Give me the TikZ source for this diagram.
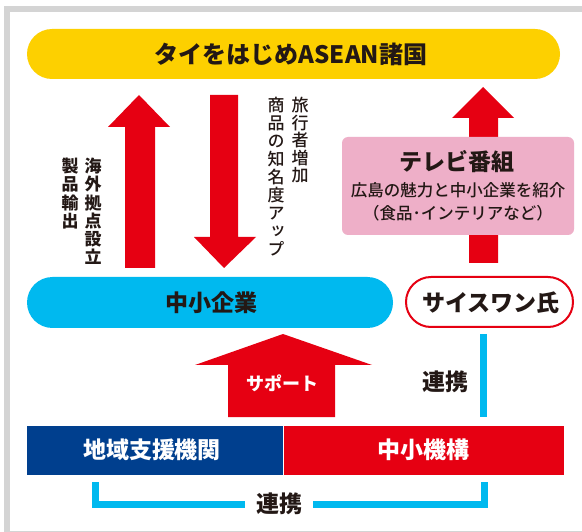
\documentclass[tikz,border=0pt]{standalone}
\usepackage{fontspec}
\setmainfont{Noto Sans CJK JP}
\newfontfamily\jpv{Noto Sans CJK JP}[RawFeature=+vert]
\newfontfamily\jpm{Noto Sans CJK JP Medium}
\newfontfamily\jpmv{Noto Sans CJK JP Medium}[RawFeature=+vert]
\definecolor{ink}{HTML}{231815}
\definecolor{ylw}{HTML}{FDD000}
\definecolor{rd}{HTML}{E60012}
\definecolor{cy}{HTML}{00B9EF}
\definecolor{nv}{HTML}{003F8E}
\definecolor{pk}{HTML}{EEAFC8}
\definecolor{frm}{HTML}{D4D4D4}
\newcommand\fsz[1]{\fontsize{#1}{#1}\selectfont}
\newcommand\fszb[2]{\fontsize{#1}{#2}\selectfont}
\tikzset{
  pill/.style={rectangle, inner sep=0pt},
  bigtxt/.style={text=ink, font=\bfseries\fsz{23}},
  vtxt/.style={text=ink, inner sep=0pt, anchor=north, align=center},
  bigarrow/.style={fill=rd},
  link/.style={draw=cy, line width=7pt, line cap=butt, line join=miter},
}
\begin{document}
\begin{tikzpicture}[x=1pt,y=-1pt]
\useasboundingbox (0,0) rectangle (582,532);
\clip (0,0) rectangle (582,532);
\fill[white] (0,0) rectangle (582,532);
\draw[frm, line width=6pt] (7,9) rectangle (600,534);

% big arrows
\fill[bigarrow] (125,268) -- (125,127) -- (108,127) -- (139,95) -- (170,127) -- (155,127) -- (155,268) -- cycle;
\fill[bigarrow] (210,95) -- (238,95) -- (238,237) -- (256,237) -- (224,268) -- (194,237) -- (210,237) -- cycle;
\fill[bigarrow] (469,263) -- (469,118) -- (452,118) -- (483,87) -- (514,118) -- (498,118) -- (498,263) -- cycle;
\fill[bigarrow] (228,417) -- (228,365) -- (195,365) -- (283,334) -- (372,365) -- (335,365) -- (335,417) -- cycle;

% top pill
\node[pill, fill=ylw, minimum width=533pt, minimum height=50pt, rounded corners=25pt] (asean) at (293.5,54) {};
\node[bigtxt, font=\bfseries\fsz{24}] (aseant) at (291,54) {タイをはじめASEAN諸国};

% pink box
\node[pill, fill=pk, minimum width=232pt, minimum height=98pt, rounded corners=6pt] (tv) at (458,186) {};
\node[bigtxt] (tvt) at (457,162) {テレビ番組};
\node[text=ink, font=\jpm\fsz{16.5}] (tv2) at (458,190) {広島の魅力と中小企業を紹介};
\node[text=ink, font=\jpm\fsz{16.5}] (tv3) at (458,213) {（食品･インテリアなど）};

% middle row
\node[pill, fill=cy, minimum width=366pt, minimum height=51pt, rounded corners=25.5pt] (sme) at (210,302.5) {};
\node[bigtxt] (smet) at (211,303) {中小企業};
\node[pill, draw=rd, line width=2pt, fill=white, minimum width=167pt, minimum height=50pt, rounded corners=25pt] (sai) at (489.5,302) {};
\node[bigtxt] (sait) at (491,303) {サイスワン氏};

% vertical labels
\node[vtxt, font=\jpv\bfseries\fszb{17}{18.2}] (v1) at (93,158) {海\\外\\拠\\点\\設\\立};
\node[vtxt, font=\jpv\bfseries\fszb{17}{18.2}] (v2) at (70,158) {製\\品\\輸\\出};
\node[vtxt, font=\jpmv\fszb{17}{17.6}] (v3) at (300,97) {旅\\行\\者\\増\\加};
\node[vtxt, font=\jpmv\fszb{17}{18}] (v4) at (276,97) {商\\品\\の\\知\\名\\度\\ア\\ッ\\プ};

% support
\node[text=white, font=\bfseries\fsz{18}] (sup) at (282,383) {サポート};

% bottom boxes
\node[pill, fill=nv, minimum width=256pt, minimum height=49pt] (reg) at (155,450.5) {};
\node[text=white, font=\bfseries\fsz{23}] (regt) at (152,450) {地域支援機関};
\node[pill, fill=rd, minimum width=280pt, minimum height=49pt] (smrj) at (424,450.5) {};
\node[text=white, font=\bfseries\fsz{23}] (smrjt) at (423,450) {中小機構};

% links
\coordinate (rtop) at (483,334);
\coordinate (rbot) at (483,417);
\draw[link] (rtop) -- (rbot);
\node[bigtxt] (ren1) at (445,382) {連携};
\node[bigtxt, inner sep=0pt, minimum width=68pt] (ren2) at (279,504) {連携};
\coordinate (bl) at (95.5,482);
\coordinate (br) at (484,482);
\draw[link] (bl) |- (ren2.west);
\draw[link] (ren2.east) -| (br);
\end{tikzpicture}
\end{document}
